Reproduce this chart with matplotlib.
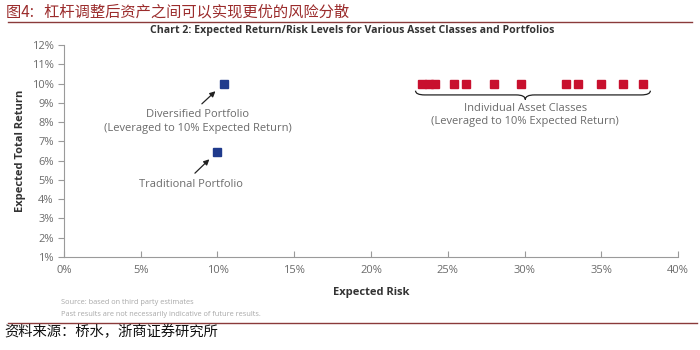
import matplotlib
matplotlib.use("Agg")
import matplotlib.pyplot as plt
from matplotlib.path import Path
from matplotlib.patches import PathPatch
from matplotlib.ticker import FuncFormatter
from matplotlib.lines import Line2D

# Expected risk (%) / expected return (%) for each asset class, levered to 10% return
asset_risk = [23.3, 23.8, 24.2, 25.4, 26.2, 28.0, 29.8, 32.7, 33.5, 35.0, 36.4, 37.7]
asset_return = [10.0] * len(asset_risk)

portfolio_names = ["Diversified Portfolio", "Traditional Portfolio"]
portfolio_risk = [10.4, 9.95]
portfolio_return = [10.0, 6.45]

x_ticks = [0, 5, 10, 15, 20, 25, 30, 35, 40]
y_ticks = [1, 2, 3, 4, 5, 6, 7, 8, 9, 10, 11, 12]

LATIN = "Open Sans"
CJK = ["Noto Sans CJK SC", "DejaVu Sans"]
GRAY = "#6b6b6b"
RED = "#c8102e"
BLUE = "#1f3a8c"
DARKRED = "#9b2c2c"

fig = plt.figure(figsize=(7, 3.5), dpi=100)
ax = fig.add_axes([0.0914, 0.2657, 0.8772, 0.6057])

ax.plot(asset_risk, asset_return, "s", color=RED, markersize=5.2, zorder=3)
ax.plot(portfolio_risk, portfolio_return, "s", color=BLUE, markersize=5.2, zorder=3)

ax.set_xlim(0, 40)
ax.set_ylim(1, 12)
ax.set_xticks(x_ticks)
ax.set_yticks(y_ticks)
ax.xaxis.set_major_formatter(FuncFormatter(lambda v, p: f"{v:.0f}%"))
ax.yaxis.set_major_formatter(FuncFormatter(lambda v, p: f"{v:.0f}%"))
for s in ("top", "right"):
    ax.spines[s].set_visible(False)
for s in ("left", "bottom"):
    ax.spines[s].set_color("#9a9a9a")
    ax.spines[s].set_linewidth(0.8)
ax.tick_params(axis="both", colors="#9a9a9a", labelcolor=GRAY, labelsize=8,
               length=4, width=0.8)
ax.tick_params(axis="x", direction="in", pad=6)
for lab in ax.get_xticklabels() + ax.get_yticklabels():
    lab.set_family(LATIN)

ax.set_xlabel("Expected Risk", family=LATIN, fontsize=8, fontweight="bold",
              color="#333333", labelpad=8)
ax.set_ylabel("Expected Total Return", family=LATIN, fontsize=8,
              fontweight="bold", color="#333333", labelpad=4)

# Annotations for the two portfolios
ax.annotate("", xy=(portfolio_risk[0] - 0.4, portfolio_return[0] - 0.3),
            xytext=(8.85, 8.85),
            arrowprops=dict(arrowstyle="-|>", color="#222222", lw=0.9,
                            mutation_scale=8))
ax.text(8.7, 8.05, "Diversified Portfolio\n(Leveraged to 10% Expected Return)",
        ha="center", va="center", family=LATIN, fontsize=8, color=GRAY,
        linespacing=1.35)
ax.annotate("", xy=(portfolio_risk[1] - 0.35, portfolio_return[1] - 0.28),
            xytext=(8.4, 5.25),
            arrowprops=dict(arrowstyle="-|>", color="#222222", lw=0.9,
                            mutation_scale=8))
ax.text(8.25, 4.78, "Traditional Portfolio", ha="center", va="center",
        family=LATIN, fontsize=8, color=GRAY)

# Curly brace under the asset classes
x0, x1 = 22.9, 38.2
xm = 30.05
yt, yl, yb = 9.63, 9.41, 9.17
verts = [
    (x0, yt), (x0, yl), (x0 + 0.6, yl),
    (xm - 0.6, yl), (xm, yl), (xm, yb),
    (xm, yl), (xm + 0.6, yl),
    (x1 - 0.6, yl), (x1, yl), (x1, yt),
]
codes = [Path.MOVETO, Path.CURVE3, Path.CURVE3,
         Path.LINETO, Path.CURVE3, Path.CURVE3,
         Path.CURVE3, Path.CURVE3,
         Path.LINETO, Path.CURVE3, Path.CURVE3]
ax.add_patch(PathPatch(Path(verts, codes), fill=False, edgecolor="#222222",
                       lw=0.9))
ax.text(xm, 8.37, "Individual Asset Classes\n(Leveraged to 10% Expected Return)",
        ha="center", va="center", family=LATIN, fontsize=8, color=GRAY,
        linespacing=1.35)

# Header, chart title, notes and source
fig.text(0.008, 0.966, "图4:   杠杆调整后资产之间可以实现更优的风险分散",
         family=CJK, fontsize=11, color=DARKRED, ha="left", va="center")
fig.add_artist(Line2D([0.012, 0.988], [0.937, 0.937], color="#8a3a3a", lw=1.0))
fig.text(0.503, 0.912,
         "Chart 2: Expected Return/Risk Levels for Various Asset Classes and Portfolios",
         family=LATIN, fontsize=7.6, fontweight="bold", color="#333333",
         ha="center", va="center")
fig.text(0.087, 0.135, "Source: based on third party estimates",
         family=LATIN, fontsize=5.3, color="#a8a8a8", ha="left", va="center")
fig.text(0.087, 0.102, "Past results are not necessarily indicative of future results.",
         family=LATIN, fontsize=5.3, color="#a8a8a8", ha="left", va="center")
fig.add_artist(Line2D([0.012, 0.995], [0.077, 0.077], color="#8a3a3a", lw=1.0))
fig.text(0.006, 0.051, "资料来源：桥水，浙商证券研究所", family=CJK, fontsize=10.3,
         color="#111111", ha="left", va="center")

fig.savefig("out.png", dpi=100)
